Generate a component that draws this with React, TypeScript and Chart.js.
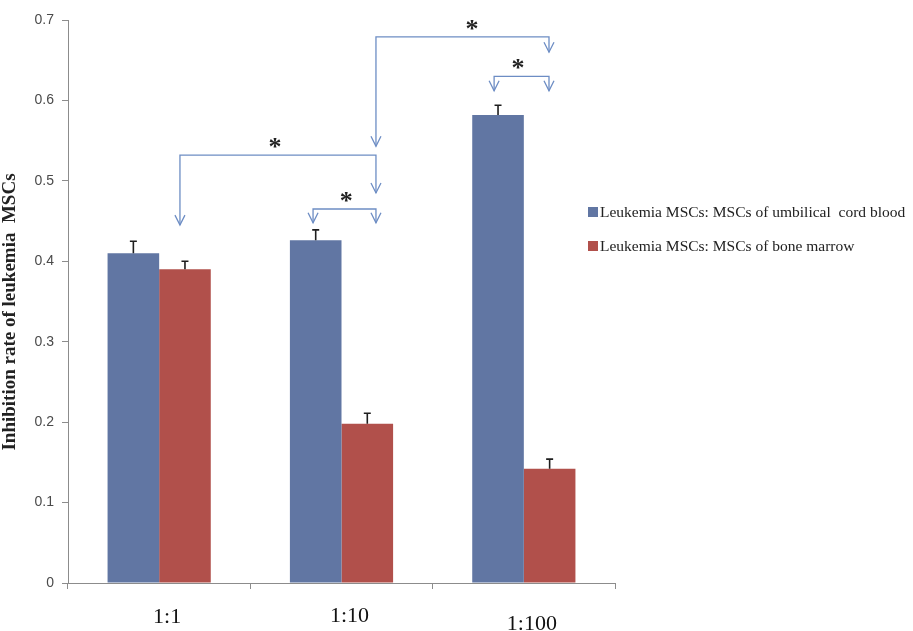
import { useEffect, useRef } from "react";
import { Chart, registerables } from "chart.js";

Chart.register(...registerables);

const categories = ["1:1", "1:10", "1:100"];
const seriesLabels = [
  "Leukemia MSCs: MSCs of umbilical  cord blood",
  "Leukemia MSCs: MSCs of bone marrow",
];
const umbilicalValues = [0.41, 0.426, 0.582];
const umbilicalErrors = [0.015, 0.013, 0.012];
const marrowValues = [0.39, 0.198, 0.142];
const marrowErrors = [0.01, 0.013, 0.012];
const yTicks = [0, 0.1, 0.2, 0.3, 0.4, 0.5, 0.6, 0.7];
const yAxisTitle = "Inhibition rate of leukemia  MSCs";

// significance brackets (x in category units, y in value units)
const bracketFrom = [0.114, 0.844, 1.189, 1.837];
const bracketTo = [1.189, 1.189, 2.138, 2.138];
const bracketLevel = [0.532, 0.465, 0.679, 0.63];
const bracketTipFrom = [0.445, 0.448, 0.543, 0.612];
const bracketTipTo = [0.485, 0.448, 0.66, 0.612];
const bracketMarkX = [0.635, 1.026, 1.716, 1.968];
const bracketMarks = ["*", "*", "*", "*"];

const BLUE = "#6176a3";
const RED = "#b1504b";
const BRACKET = "#6d8dc4";

const overlayPlugin = {
  id: "overlay",
  afterDatasetsDraw(chart: any) {
    const ctx = chart.ctx;
    const xs = chart.scales.x;
    const ys = chart.scales.y;
    const errs = [umbilicalErrors, marrowErrors];
    // error bars
    chart.data.datasets.forEach((ds: any, di: number) => {
      const meta = chart.getDatasetMeta(di);
      meta.data.forEach((bar: any, i: number) => {
        const v = ds.data[i];
        const top = ys.getPixelForValue(v + errs[di][i]);
        const base = ys.getPixelForValue(v);
        ctx.save();
        ctx.strokeStyle = "#1e1e1e";
        ctx.lineWidth = 1.6;
        ctx.beginPath();
        ctx.moveTo(bar.x, base);
        ctx.lineTo(bar.x, top);
        ctx.moveTo(bar.x - 3.5, top);
        ctx.lineTo(bar.x + 3.5, top);
        ctx.stroke();
        ctx.restore();
      });
    });
    // brackets
    const p0 = xs.getPixelForValue(0);
    const p1 = xs.getPixelForValue(1);
    const cw = p1 - p0;
    const px = (v: number) => p0 + v * cw;
    ctx.save();
    ctx.strokeStyle = BRACKET;
    ctx.lineWidth = 1.3;
    const arrow = (x: number, y: number) => {
      ctx.beginPath();
      ctx.moveTo(x - 5, y - 10);
      ctx.lineTo(x, y);
      ctx.lineTo(x + 5, y - 10);
      ctx.stroke();
    };
    for (let k = 0; k < bracketFrom.length; k++) {
      const x1 = px(bracketFrom[k]);
      const x2 = px(bracketTo[k]);
      const yl = ys.getPixelForValue(bracketLevel[k]);
      const t1 = ys.getPixelForValue(bracketTipFrom[k]);
      const t2 = ys.getPixelForValue(bracketTipTo[k]);
      ctx.beginPath();
      ctx.moveTo(x1, t1);
      ctx.lineTo(x1, yl);
      ctx.lineTo(x2, yl);
      ctx.lineTo(x2, t2);
      ctx.stroke();
      arrow(x1, t1);
      arrow(x2, t2);
      ctx.save();
      ctx.fillStyle = "#222";
      ctx.font = "bold 26px 'Liberation Serif'";
      ctx.textAlign = "center";
      ctx.textBaseline = "alphabetic";
      ctx.fillText(bracketMarks[k], px(bracketMarkX[k]), yl - 13 + 13);
      ctx.restore();
    }
    ctx.restore();
  },
  afterDraw(chart: any) {
    const ctx = chart.ctx;
    // legend
    const colors = [BLUE, RED];
    const rows = [212, 246];
    ctx.save();
    ctx.font = "15.5px 'Liberation Serif'";
    ctx.textBaseline = "middle";
    ctx.textAlign = "left";
    chart.data.datasets.forEach((ds: any, i: number) => {
      ctx.fillStyle = colors[i];
      ctx.fillRect(588, rows[i] - 5, 10, 10);
      ctx.fillStyle = "#222";
      ctx.fillText(ds.label, 600, rows[i] + 1);
    });
    ctx.restore();
    // y-axis title
    ctx.save();
    ctx.translate(10, 312);
    ctx.rotate(-Math.PI / 2);
    ctx.font = "bold 19px 'Liberation Serif'";
    ctx.fillStyle = "#222";
    ctx.textAlign = "center";
    ctx.textBaseline = "middle";
    ctx.fillText(yAxisTitle, 0, 0);
    ctx.restore();
  },
};

export default function App() {
  const ref = useRef<HTMLCanvasElement | null>(null);
  useEffect(() => {
    if (!ref.current) return;
    const chart = new Chart(ref.current, {
      type: "bar",
      data: {
        labels: categories,
        datasets: [
          {
            label: seriesLabels[0],
            data: umbilicalValues,
            backgroundColor: BLUE,
            categoryPercentage: 0.566,
            barPercentage: 1,
          },
          {
            label: seriesLabels[1],
            data: marrowValues,
            backgroundColor: RED,
            categoryPercentage: 0.566,
            barPercentage: 1,
          },
        ],
      },
      options: {
        responsive: false,
        animation: false,
        events: [],
        layout: { padding: { left: 0, right: 298, top: 20, bottom: 0 } },
        plugins: {
          legend: { display: false },
          tooltip: { enabled: false },
          title: { display: false },
        },
        scales: {
          x: {
            grid: {
              display: true,
              drawOnChartArea: false,
              drawTicks: true,
              tickLength: 6,
              color: "#8c8c8c",
              offset: true,
            },
            border: { color: "#8c8c8c", width: 1 },
            ticks: {
              font: (c: any) => ({
                family: "'Liberation Serif'",
                size: 22,
                lineHeight: c.index === 2 ? 1.9 : c.index === 0 ? 1.3 : 1.2,
              }),
              color: "#111",
              padding: 14,
              labelOffset: 8,
            },
            afterFit: (s: any) => {
              s.height = 48;
            },
          },
          y: {
            min: 0,
            max: 0.7,
            afterBuildTicks: (s: any) => {
              s.ticks = yTicks.map((v) => ({ value: v }));
            },
            ticks: {
              font: { family: "'Liberation Sans'", size: 14 },
              color: "#4a4a4a",
              padding: 8,
              callback: (v: any) => (Number(v) === 0 ? "0" : Number(v).toFixed(1)),
            },
            grid: {
              drawOnChartArea: false,
              drawTicks: true,
              tickLength: 6,
              color: "#8c8c8c",
            },
            border: { color: "#8c8c8c", width: 1 },
            afterFit: (s: any) => {
              s.width = 68;
            },
          },
        },
      },
      plugins: [overlayPlugin],
    } as any);
    return () => chart.destroy();
  }, []);
  return (
    <div style={{ position: "absolute", left: 0, top: 0, width: 913, height: 631, background: "#fff" }}>
      <canvas ref={ref} width={913} height={631} style={{ display: "block" }} />
    </div>
  );
}
